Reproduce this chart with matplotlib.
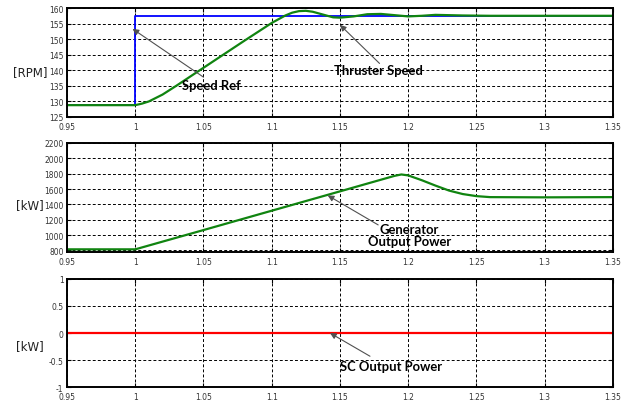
import matplotlib
matplotlib.use("Agg")
import matplotlib.pyplot as plt

# time axis (s) and values
t_ref = [0.95, 1.0, 1.0, 1.35]
speed_ref = [129.0, 129.0, 157.5, 157.5]

t_speed = [0.95, 1.0, 1.005, 1.01, 1.02, 1.03, 1.05, 1.08, 1.10, 1.11, 1.115, 1.12,
           1.125, 1.13, 1.14, 1.145, 1.15, 1.16, 1.17, 1.18, 1.19, 1.20, 1.21,
           1.22, 1.24, 1.26, 1.35]
thruster_speed = [128.8, 128.8, 129.3, 130.0, 132.2, 135.0, 140.8, 149.5, 155.2,
                  157.6, 158.5, 159.0, 159.1, 158.8, 157.6, 157.0, 156.9, 157.3,
                  158.0, 158.1, 157.7, 157.3, 157.5, 157.8, 157.6, 157.5, 157.5]

t_gen = [0.95, 1.0, 1.05, 1.10, 1.15, 1.19, 1.195, 1.20, 1.21, 1.22, 1.23, 1.24,
         1.25, 1.26, 1.30, 1.33, 1.35]
gen_power = [815, 815, 1066, 1318, 1570, 1772, 1790, 1778, 1715, 1645, 1580,
             1535, 1508, 1495, 1492, 1494, 1495]

t_sc = [0.95, 1.35]
sc_power = [0.0, 0.0]

x_ticks = [0.95, 1.0, 1.05, 1.1, 1.15, 1.2, 1.25, 1.3, 1.35]
x_labels = ["0.95", "1", "1.05", "1.1", "1.15", "1.2", "1.25", "1.3", "1.35"]

fig = plt.figure(figsize=(6.34, 4.02), dpi=100)
ax1 = fig.add_axes([0.1057, 0.7065, 0.861, 0.2711])
ax2 = fig.add_axes([0.1057, 0.3706, 0.861, 0.2712])
ax3 = fig.add_axes([0.1057, 0.0348, 0.861, 0.2687])

ANN = dict(family="Lato", fontsize=9.4, fontweight="bold", color="black")
ARROW = dict(arrowstyle="-|>", color="#505050", lw=0.8, mutation_scale=9,
             shrinkA=0, shrinkB=0)


def style(ax, yticks, ylim, ylabel, ylab_y):
    ax.set_xlim(0.95, 1.35)
    ax.set_ylim(*ylim)
    ax.set_xticks(x_ticks)
    ax.set_xticklabels(x_labels)
    ax.set_yticks(yticks)
    ax.set_yticklabels([f"{v:g}" for v in yticks])
    ax.tick_params(direction="in", length=3, width=0.8, labelsize=5.5,
                   colors="black", labelcolor="#333333",
                   top=True, right=True)
    ax.tick_params(axis="x", pad=3.6)
    ax.tick_params(axis="y", pad=2.5)
    ax.grid(True, color="black", linestyle=(0, (3, 2.2)), linewidth=0.7)
    for s in ax.spines.values():
        s.set_linewidth(1.4)
    ax.text(-0.068, ylab_y, ylabel, transform=ax.transAxes, ha="center",
            va="center", fontsize=8.5, color="#222222", family="DejaVu Sans")


# speed plot
ax1.plot(t_ref, speed_ref, color="#0000ff", lw=1.3)
ax1.plot(t_speed, thruster_speed, color="#108410", lw=1.6)
style(ax1, [125, 130, 135, 140, 145, 150, 155, 160], (125, 160), "[RPM]", 0.42)
ax1.annotate("", xy=(0.998, 153.3), xytext=(1.050, 137.8), arrowprops=ARROW)
ax1.text(1.034, 135.2, "Speed Ref", ha="left", va="center", **ANN)
ax1.annotate("", xy=(1.150, 154.6), xytext=(1.179, 142.2), arrowprops=ARROW)
ax1.text(1.146, 140.1, "Thruster Speed", ha="left", va="center", **ANN)

# generator power
ax2.plot(t_gen, gen_power, color="#108410", lw=1.6)
style(ax2, [800, 1000, 1200, 1400, 1600, 1800, 2000, 2200], (780, 2200), "[kW]", 0.44)
ax2.annotate("", xy=(1.141, 1518), xytext=(1.178, 1133), arrowprops=ARROW)
ax2.text(1.201, 1000, "Generator\nOutput Power", ha="center", va="center",
         linespacing=1.0, **ANN)

# SC power
ax3.plot(t_sc, sc_power, color="#ff0000", lw=1.6)
style(ax3, [-1, -0.5, 0, 0.5, 1], (-1, 1), "[kW]", 0.38)
ax3.annotate("", xy=(1.1427, 0.0), xytext=(1.172, -0.43), arrowprops=ARROW)
ax3.text(1.150, -0.61, "SC Output Power", ha="left", va="center", **ANN)

fig.savefig("out.png", dpi=100)
